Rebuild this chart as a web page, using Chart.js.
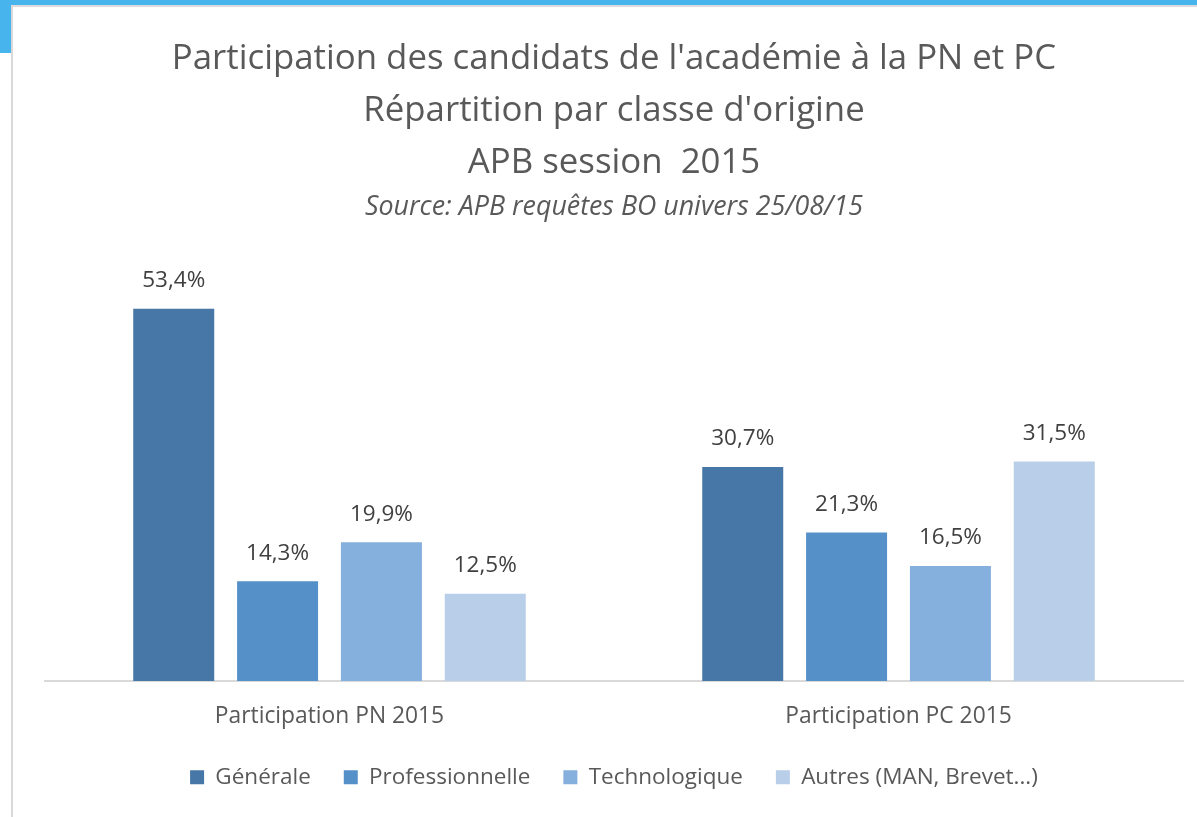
<!DOCTYPE html>
<html>
<head>
<meta charset="utf-8">
<script src="https://cdn.jsdelivr.net/npm/chart.js@4"></script>
<style>
  html, body { margin: 0; padding: 0; background: #ffffff; }
  body { width: 1197px; height: 817px; position: relative; overflow: hidden; }
  .top-strip { position: absolute; left: 0; top: 0; width: 1197px; height: 5px; background: #47b4ee; }
  .left-strip { position: absolute; left: 0; top: 0; width: 11px; height: 53px; background: #47b4ee; }
  .frame {
    position: absolute; left: 11px; top: 5px; width: 1186px; height: 812px;
    border-left: 2px solid #d9d9d9; border-top: 2px solid #dcdcdc; background: #fff;
  }
  .box { position: relative; width: 1184px; height: 810px; }
</style>
</head>
<body>
<div class="top-strip"></div>
<div class="left-strip"></div>
<div class="frame">
  <div class="box"><canvas id="chart"></canvas></div>
</div>
<script>
// Données du graphique
const groups = ['Participation PN 2015', 'Participation PC 2015'];
const seriesNames = ['Générale', 'Professionnelle', 'Technologique', 'Autres (MAN, Brevet...)'];
const generale = [53.4, 30.7];
const professionnelle = [14.3, 21.3];
const technologique = [19.9, 16.5];
const autres = [12.5, 31.5];
const colors = ['#4677a6', '#5591c8', '#85afdc', '#b9cee9'];

const titleLines = [
    "Participation des candidats de l'académie à la PN et PC",
    "Répartition par classe d'origine",
    "APB session  2015"
];
const sourceText = 'Source: APB requêtes BO univers 25/08/15';

Chart.defaults.font.family = '"Open Sans", sans-serif';
Chart.defaults.color = '#595959';

// Étiquettes de valeurs au-dessus des barres
const valueLabels = {
    id: 'valueLabels',
    afterDatasetsDraw(chart) {
        let ctx = chart.ctx;
        ctx.save();
        ctx.font = '22.5px "Open Sans", sans-serif';
        ctx.fillStyle = '#404040';
        ctx.textAlign = 'center';
        ctx.textBaseline = 'middle';
        chart.data.datasets.forEach((ds, i) => {
            chart.getDatasetMeta(i).data.forEach((bar, j) => {
                ctx.fillText(ds.data[j].toFixed(1).replace('.', ',') + '%', bar.x, bar.y - 28);
            });
        });
        ctx.restore();
    }
};

let allSeries = [generale, professionnelle, technologique, autres];

new Chart(document.getElementById('chart'), {
    type: 'bar',
    data: {
        labels: groups,
        datasets: allSeries.map((values, i) => ({
            label: seriesNames[i],
            data: values,
            backgroundColor: colors[i],
            borderWidth: 0,
            categoryPercentage: 0.73,
            barPercentage: 0.78
        }))
    },
    options: {
        responsive: true,
        maintainAspectRatio: false,
        animation: false,
        layout: { padding: { left: 32, right: 14, top: 0, bottom: 18.5 } },
        scales: {
            x: {
                grid: { display: false, drawTicks: false },
                border: { display: true, color: '#d9d9d9', width: 2 },
                ticks: { color: '#595959', font: { size: 22.8 }, padding: 21.5 },
                afterFit(scale) {
                    scale.height = 52;
                }
            },
            y: {
                display: false,
                min: 0,
                max: 60
            }
        },
        plugins: {
            title: {
                display: true,
                text: titleLines,
                color: '#595959',
                font: { size: 34.8, weight: 'normal', lineHeight: 1.5 },
                padding: { top: 26, bottom: 0 }
            },
            subtitle: {
                display: true,
                text: sourceText,
                color: '#595959',
                font: { size: 26.8, style: 'italic', weight: 'normal' },
                padding: { top: 2, bottom: 39 }
            },
            legend: {
                position: 'bottom',
                labels: {
                    color: '#595959',
                    font: { size: 22.5 },
                    boxWidth: 14,
                    boxHeight: 14,
                    padding: 33
                }
            },
            tooltip: { enabled: false }
        }
    },
    plugins: [valueLabels]
});
</script>
</body>
</html>
